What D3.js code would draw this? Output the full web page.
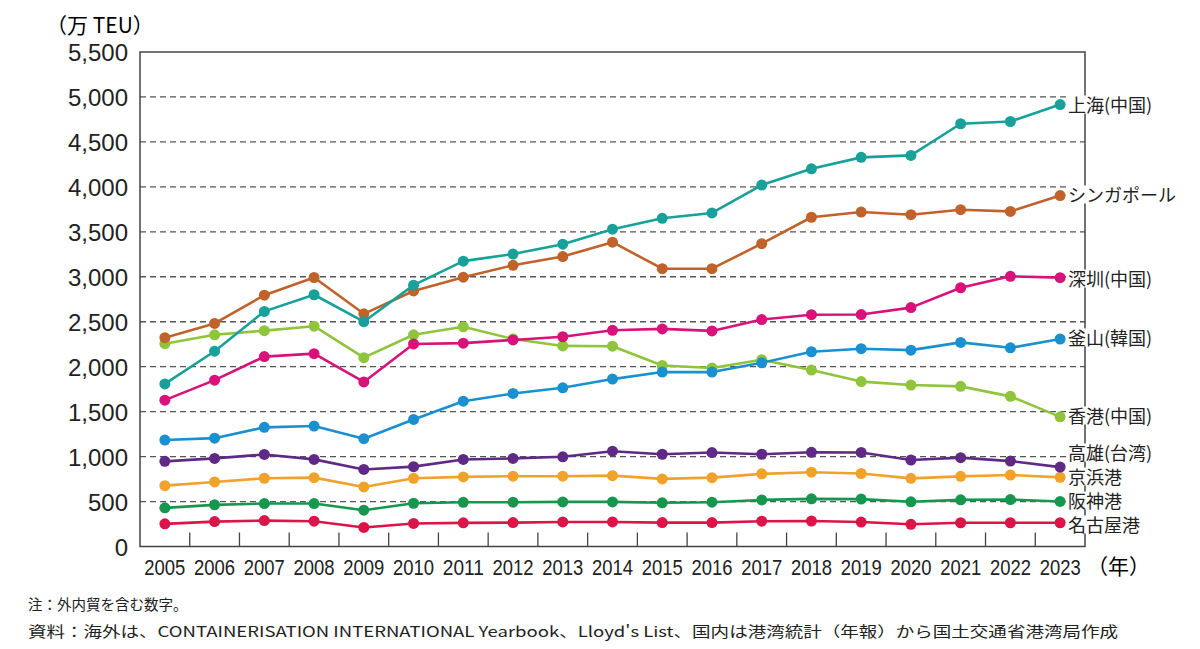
<!doctype html>
<html lang="ja">

<head>
    <meta charset="utf-8">
    <title>主要港湾のコンテナ取扱量の推移</title>
    <style>
        body {
            margin: 0;
            background-color: white;
            font-family: 'Liberation Sans', 'Noto Sans CJK JP', sans-serif;
            color: #222;
        }

        #chart {
            display: block;
        }

        .grid line {
            stroke: #555;
            stroke-width: 1.3;
            stroke-dasharray: 6, 4;
        }

        .frame {
            fill: none;
            stroke: #444;
            stroke-width: 1.5;
        }

        .y-tick text {
            font-size: 24px;
            fill: #222;
        }

        .x-tick text {
            font-family: 'Liberation Sans', sans-serif;
            font-size: 22.5px;
            fill: #222;
        }

        .port-label {
            font-family: 'Noto Sans CJK JP', sans-serif;
            font-size: 18px;
            fill: #222;
        }

        .note {
            font-family: 'Noto Sans CJK JP', sans-serif;
            font-size: 14.5px;
            fill: #222;
        }
    </style>
</head>

<body>
    <svg id="chart"></svg>
    <script src="https://d3js.org/d3.v7.min.js"></script>
    <script>
        // years on the x axis
        var years = [2005, 2006, 2007, 2008, 2009, 2010, 2011, 2012, 2013, 2014,
            2015, 2016, 2017, 2018, 2019, 2020, 2021, 2022, 2023];

        // 万 TEU
        var shanghai = [1808, 2172, 2615, 2800, 2500, 2907, 3174, 3253, 3362, 3529,
            3650, 3710, 4020, 4201, 4328, 4350, 4702, 4727, 4915];
        var singapore = [2322, 2481, 2795, 2992, 2588, 2842, 2995, 3128, 3225, 3385,
            3090, 3090, 3368, 3662, 3720, 3690, 3746, 3727, 3903];
        var shenzhen = [1628, 1850, 2112, 2145, 1830, 2253, 2262, 2297, 2333, 2405,
            2420, 2398, 2524, 2578, 2580, 2657, 2878, 3005, 2990];
        var busan = [1184, 1205, 1325, 1340, 1199, 1413, 1616, 1702, 1765, 1862,
            1940, 1940, 2043, 2166, 2200, 2184, 2270, 2210, 2308];
        var hongkong = [2256, 2355, 2401, 2450, 2100, 2355, 2444, 2308, 2231, 2228,
            2013, 1986, 2077, 1962, 1834, 1796, 1781, 1670, 1442];
        var kaohsiung = [947, 980, 1024, 969, 857, 888, 968, 980, 998, 1060,
            1026, 1045, 1026, 1048, 1046, 962, 988, 950, 883];
        var keihin = [677, 718, 759, 766, 662, 759, 774, 782, 782, 788,
            752, 766, 808, 826, 812, 758, 780, 795, 769];
        var hanshin = [430, 463, 478, 478, 404, 481, 492, 493, 496, 496,
            486, 493, 518, 530, 527, 497, 519, 522, 501];
        var nagoya = [252, 277, 288, 281, 212, 256, 263, 266, 273, 273,
            266, 266, 281, 283, 272, 247, 264, 264, 264];

        var yTicks = [0, 500, 1000, 1500, 2000, 2500, 3000, 3500, 4000, 4500, 5000, 5500];

        var series = [
            { name: "上海(中国)", values: shanghai, color: "#17a19a", labelY: 106 },
            { name: "シンガポール", values: singapore, color: "#c0622a", labelY: 196 },
            { name: "深圳(中国)", values: shenzhen, color: "#d8127a", labelY: 280 },
            { name: "釜山(韓国)", values: busan, color: "#1a90cf", labelY: 339 },
            { name: "香港(中国)", values: hongkong, color: "#8fc43c", labelY: 417 },
            { name: "高雄(台湾)", values: kaohsiung, color: "#5e2a86", labelY: 454 },
            { name: "京浜港", values: keihin, color: "#f1a22a", labelY: 478 },
            { name: "阪神港", values: hanshin, color: "#17964e", labelY: 502 },
            { name: "名古屋港", values: nagoya, color: "#dc1448", labelY: 526 }
        ];

        var svgWidth = 1200;
        var svgHeight = 649;
        var margin = { top: 52, right: 115, bottom: 102.5, left: 140 };
        var width = svgWidth - margin.left - margin.right;
        var height = svgHeight - margin.top - margin.bottom;

        var svg = d3.select("#chart")
            .attr("width", svgWidth)
            .attr("height", svgHeight);

        var g = svg.append("g")
            .attr("transform", "translate(" + margin.left + "," + margin.top + ")");

        var x = d3.scaleBand().domain(years).range([0, width]);
        var y = d3.scaleLinear().domain([0, 5500]).range([height, 0]);

        // dashed grid
        g.append("g")
            .attr("class", "grid")
            .selectAll("line")
            .data(yTicks.filter(function (d) { return d > 0 && d < 5500 }))
            .join("line")
            .attr("x1", 0)
            .attr("x2", width)
            .attr("y1", function (d) { return y(d) })
            .attr("y2", function (d) { return y(d) });

        // y axis labels
        var yAxis = g.append("g")
            .attr("class", "y-tick")
            .call(d3.axisLeft(y).tickValues(yTicks).tickSize(0).tickPadding(12)
                .tickFormat(d3.format(",")));
        yAxis.select(".domain").remove();
        yAxis.selectAll("text").attr("dy", "0.36em");

        // x axis: inner ticks on the band boundaries, condensed year labels
        var xAxis = g.append("g")
            .attr("class", "x-tick")
            .attr("transform", "translate(0," + height + ")")
            .call(d3.axisBottom(x).tickSize(0).tickPadding(13));
        xAxis.select(".domain").remove();
        xAxis.selectAll("text")
            .attr("dy", "0.71em")
            .attr("textLength", 41)
            .attr("lengthAdjust", "spacingAndGlyphs");

        g.append("g")
            .selectAll("line")
            .data(years.slice(1))
            .join("line")
            .attr("x1", function (d) { return x(d) })
            .attr("x2", function (d) { return x(d) })
            .attr("y1", height)
            .attr("y2", height - 14)
            .attr("stroke", "#444")
            .attr("stroke-width", 1.3);

        g.append("rect")
            .attr("class", "frame")
            .attr("width", width)
            .attr("height", height);

        var line = d3.line()
            .x(function (d, i) { return x(years[i]) + x.bandwidth() / 2 })
            .y(function (d) { return y(d) });

        // draw lower series first so the upper ones sit on top
        series.slice().reverse().forEach(function (s) {
            g.append("path")
                .datum(s.values)
                .attr("fill", "none")
                .attr("stroke", s.color)
                .attr("stroke-width", 2.6)
                .attr("stroke-linejoin", "round")
                .attr("d", line);

            g.append("g")
                .selectAll("circle")
                .data(s.values)
                .join("circle")
                .attr("cx", function (d, i) { return x(years[i]) + x.bandwidth() / 2 })
                .attr("cy", function (d) { return y(d) })
                .attr("r", 5.5)
                .attr("fill", s.color);
        });

        // port labels with white backing over the frame
        series.forEach(function (s) {
            var t = svg.append("text")
                .attr("class", "port-label")
                .attr("x", 1068)
                .attr("y", s.labelY)
                .attr("dy", "0.36em")
                .text(s.name);
            var b = t.node().getBBox();
            svg.insert("rect", "text.port-label")
                .attr("x", b.x - 1)
                .attr("y", b.y + 4)
                .attr("width", b.width + 2)
                .attr("height", b.height - 8)
                .attr("fill", "white");
        });

        svg.append("text")
            .attr("x", 46)
            .attr("y", 25)
            .attr("dy", "0.36em")
            .style("font-size", "21px")
            .style("font-family", "'Noto Sans CJK JP', sans-serif")
            .text("（万 TEU）");

        svg.append("text")
            .attr("x", 1087)
            .attr("y", 566)
            .attr("dy", "0.36em")
            .style("font-size", "21px")
            .style("font-family", "'Noto Sans CJK JP', sans-serif")
            .text("（年）");

        svg.append("text")
            .attr("class", "note")
            .attr("x", 28)
            .attr("y", 605)
            .attr("dy", "0.36em")
            .text("注：外内貿を含む数字。");

        svg.append("text")
            .attr("class", "note")
            .attr("x", 28)
            .attr("y", 632)
            .attr("dy", "0.36em")
            .attr("textLength", 1090)
            .attr("lengthAdjust", "spacingAndGlyphs")
            .text("資料：海外は、CONTAINERISATION INTERNATIONAL Yearbook、Lloyd's List、国内は港湾統計（年報）から国土交通省港湾局作成");
    </script>
</body>

</html>
